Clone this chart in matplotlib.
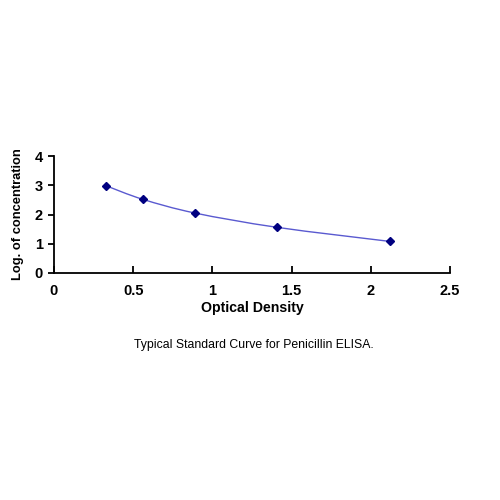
import numpy as np
import matplotlib.pyplot as plt
from matplotlib.path import Path
from matplotlib.patches import PathPatch

plt.rcParams['font.family'] = ['Liberation Sans', 'DejaVu Sans']

# standard curve readings
od = [0.33, 0.56, 0.89, 1.41, 2.12]
log_conc = [2.98, 2.52, 2.05, 1.56, 1.08]
x_ticks = [0, 0.5, 1, 1.5, 2, 2.5]
x_tick_labels = ['0', '0.5', '1', '1.5', '2', '2.5']
y_ticks = [0, 1, 2, 3, 4]


def smooth_path(xs, ys):
    # Catmull-Rom style bezier through the points (like a spreadsheet smoothed line)
    pts = np.column_stack([xs, ys])
    verts = [pts[0]]
    codes = [Path.MOVETO]
    n = len(pts)
    for i in range(n - 1):
        p0 = pts[i - 1] if i > 0 else pts[i]
        p1 = pts[i]
        p2 = pts[i + 1]
        p3 = pts[i + 2] if i + 2 < n else pts[i + 1]
        c1 = p1 + (p2 - p0) / 6.0
        c2 = p2 - (p3 - p1) / 6.0
        verts += [c1, c2, p2]
        codes += [Path.CURVE4] * 3
    return Path(verts, codes)


fig = plt.figure(figsize=(5, 5), dpi=100)
ax = fig.add_axes([0.108, 0.454, 0.792, 0.234])

ax.add_patch(PathPatch(smooth_path(od, log_conc), facecolor='none',
                       edgecolor='#5a5ad0', lw=1.0))
ax.plot(od, log_conc, linestyle='none', marker='D', markersize=3.6,
        color='#000080')

ax.set_xlim(0, 2.5)
ax.set_ylim(0, 4)
ax.set_xticks(x_ticks)
ax.set_xticklabels(x_tick_labels)
ax.set_yticks(y_ticks)
for s in ['top', 'right']:
    ax.spines[s].set_visible(False)
for s in ['left', 'bottom']:
    ax.spines[s].set_linewidth(1.3)
ax.tick_params(axis='x', direction='in', length=5, width=1.3, pad=8)
ax.tick_params(axis='y', direction='out', length=4, width=1.3, pad=4)
for lab in ax.get_xticklabels() + ax.get_yticklabels():
    lab.set_fontsize(10.5)
    lab.set_fontweight('bold')

ax.set_xlabel('Optical Density', fontsize=10.2, fontweight='bold', labelpad=2)
ax.set_ylabel('Log. of concentration', fontsize=9.3, fontweight='bold',
              labelpad=8)

fig.text(0.507, 0.31, 'Typical Standard Curve for Penicillin ELISA.',
         ha='center', va='center', fontsize=8.8)

fig.savefig('out.png', dpi=100)
